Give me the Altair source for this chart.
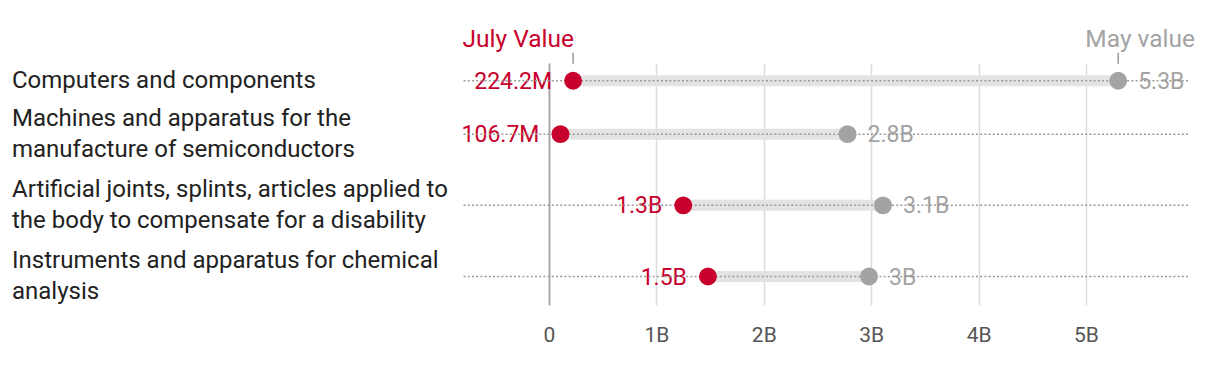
import altair as alt
import pandas as pd

FONT = "Roboto"
RED = "#c8002d"
GRAY = "#a3a3a3"

categories = [
    "Computers and components",
    "Machines and apparatus for the\nmanufacture of semiconductors",
    "Artificial joints, splints, articles applied to\nthe body to compensate for a disability",
    "Instruments and apparatus for chemical\nanalysis",
]
july_values = [224.2e6, 106.7e6, 1.25e9, 1.48e9]
may_values = [5.30e9, 2.78e9, 3.11e9, 2.98e9]
july_labels = ["224.2M", "106.7M", "1.3B", "1.5B"]
may_labels = ["5.3B", "2.8B", "3.1B", "3B"]
series_names = ["July Value", "May value"]
x_ticks = [0, 1e9, 2e9, 3e9, 4e9, 5e9]

# row centres derived from the number of label lines
lines = [c.count("\n") + 1 for c in categories]
rows = []
acc = 0
for n in lines:
    rows.append(acc + n / 2)
    acc += n

df = pd.DataFrame({
    "category": categories,
    "july": july_values,
    "may": may_values,
    "july_label": july_labels,
    "may_label": may_labels,
    "row": rows,
    "lines": lines,
})
head = df.head(1)

W_LEFT, W_RIGHT, H = 454, 726, 242
LINE_H = 31

y_enc = alt.Y("row:Q", scale=alt.Scale(domain=[0, 6.8], reverse=True, nice=False, zero=False), axis=None)
x_scale = alt.Scale(domain=[-0.81e9, 5.95e9], nice=False, zero=False)
x_axis = alt.Axis(
    values=x_ticks,
    labelExpr="datum.value == 0 ? '0' : format(datum.value / 1e9, '~g') + 'B'",
    title=None,
    domain=False,
    ticks=False,
    grid=True,
    gridColor=alt.condition("datum.value == 0", alt.value("#a8a8a8"), alt.value("#dcdcdc")),
    gridWidth=alt.condition("datum.value == 0", alt.value(2), alt.value(1.5)),
    labelFont=FONT,
    labelFontSize=21,
    labelColor="#555555",
    labelPadding=19,
)

base = alt.Chart(df).encode(y=y_enc)

bar = base.mark_rule(color="#e3e3e3", strokeWidth=11).encode(
    x=alt.X("july:Q", scale=x_scale, axis=x_axis), x2="may:Q"
)
july_text = base.mark_text(align="right", baseline="middle", dx=-21, dy=1, fontSize=23, font=FONT, color=RED).encode(
    x="july:Q", text="july_label:N"
)
may_text = base.mark_text(align="left", baseline="middle", dx=20, dy=1, fontSize=23, font=FONT, color=GRAY).encode(
    x="may:Q", text="may_label:N"
)
dotted = base.mark_rule(color="#9a9a9a", strokeWidth=1.5, strokeDash=[2, 2.2])
july_dot = base.mark_circle(size=320, color=RED, opacity=1).encode(x="july:Q")
may_dot = base.mark_circle(size=320, color=GRAY, opacity=1).encode(x="may:Q")

hbase = alt.Chart(head).encode(y=y_enc)
july_head = hbase.mark_text(text=series_names[0], align="right", baseline="alphabetic", dy=-34, dx=1,
                            fontSize=24.5, font=FONT, color=RED).encode(x="july:Q")
may_head = hbase.mark_text(text=series_names[1], align="center", baseline="alphabetic", dy=-34, dx=22,
                           fontSize=24.5, font=FONT, color=GRAY).encode(x="may:Q")
july_tick = hbase.mark_rule(color="#999999", strokeWidth=1.5, yOffset=-28, y2Offset=-17).encode(x="july:Q", y2="row:Q")
may_tick = hbase.mark_rule(color="#999999", strokeWidth=1.5, yOffset=-28, y2Offset=-17).encode(x="may:Q", y2="row:Q")

right = alt.layer(
    bar, july_text, may_text, dotted, july_dot, may_dot, july_head, may_head, july_tick, may_tick
).properties(width=W_RIGHT, height=H)

label_base = alt.Chart(df).encode(x=alt.value(4), y=y_enc, text="category:N")
label_layers = []
for n in sorted(set(lines)):
    label_layers.append(
        label_base.transform_filter(alt.datum.lines == n).mark_text(
            align="left", baseline="middle", lineBreak="\n", lineHeight=LINE_H,
            dy=-(n - 1) * LINE_H / 2, fontSize=24, font=FONT, color="#222222"
        )
    )
left = alt.layer(*label_layers).properties(width=W_LEFT, height=H)

chart = alt.hconcat(left, right, spacing=0, bounds="flush").properties(
    padding={"left": 0, "top": 18, "right": 0, "bottom": 0},
).configure_view(stroke=None)

chart.save("out.html", embed_options={"renderer": "svg", "actions": False})
